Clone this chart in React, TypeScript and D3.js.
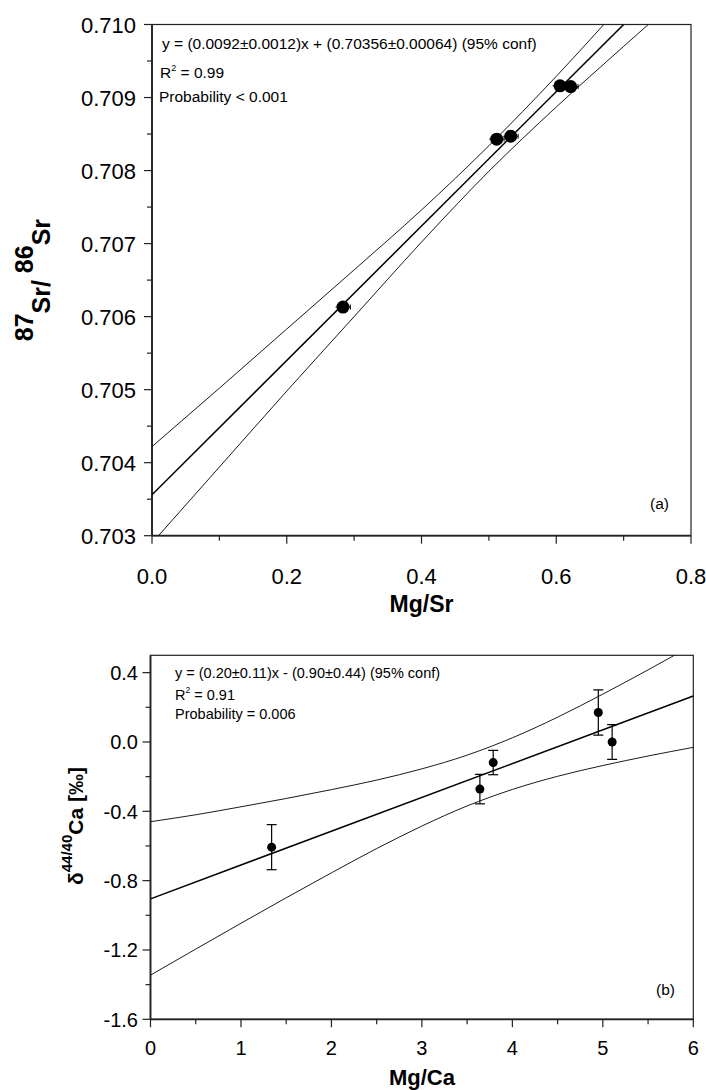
import React from "react";
import * as d3 from "d3";

// ---------- Data: panel (a) ----------
const srMgSr = [0.2835, 0.5116, 0.5324, 0.6056, 0.6214];
const srRatio = [0.70613, 0.70843, 0.70847, 0.70916, 0.70915];
const srXErr = [0.011, 0.011, 0.011, 0.011, 0.011];
const srFitSlope = 0.0092;
const srFitIntercept = 0.70356;
const srBandX = [0, 0.1, 0.2, 0.3, 0.4, 0.5, 0.6, 0.7, 0.8];
const srUpperY = [0.70422, 0.70502, 0.70583, 0.70664, 0.70746, 0.70834, 0.70929, 0.7103, 0.71132];
const srLowerY = [0.7029, 0.70394, 0.70498, 0.706, 0.70702, 0.70799, 0.70887, 0.7097, 0.71052];
const srYTicks = [0.703, 0.704, 0.705, 0.706, 0.707, 0.708, 0.709, 0.71];
const srXTicks = [0, 0.2, 0.4, 0.6, 0.8];

// ---------- Data: panel (b) ----------
const caMgCa = [1.339, 3.641, 3.788, 4.95, 5.103];
const caDelta = [-0.607, -0.272, -0.119, 0.17, 0.0];
const caErr = [0.13, 0.085, 0.07, 0.13, 0.1];
const caFitSlope = 0.195;
const caFitIntercept = -0.905;
const caBandX = [0, 0.5, 1, 1.5, 2, 2.5, 3, 3.5, 4, 4.5, 5, 5.5, 6];
const caUpperY = [-0.46, -0.42, -0.374, -0.326, -0.275, -0.22, -0.155, -0.076, 0.024, 0.143, 0.276, 0.416, 0.561];
const caLowerY = [-1.345, -1.195, -1.046, -0.899, -0.755, -0.615, -0.485, -0.369, -0.274, -0.198, -0.136, -0.081, -0.031];
const caYTicks = [-1.6, -1.2, -0.8, -0.4, 0.0, 0.4];
const caXTicks = [0, 1, 2, 3, 4, 5, 6];

const FONT = "'Liberation Sans', Arial, Helvetica, sans-serif";

function minorTicks(domain: [number, number], step: number): number[] {
  const out: number[] = [];
  const n = Math.round((domain[1] - domain[0]) / step);
  for (let i = 0; i <= n; i++) out.push(domain[0] + i * step);
  return out;
}

export default function App() {
  // Panel (a) scales
  const xa = d3.scaleLinear().domain([0, 0.8]).range([152, 691]);
  const ya = d3.scaleLinear().domain([0.703, 0.71]).range([535.7, 24.5]);
  // Panel (b) scales
  const xb = d3.scaleLinear().domain([0, 6]).range([150.5, 693.3]);
  const yb = d3.scaleLinear().domain([-1.6, 0.5]).range([1019.3, 655.3]);

  const lineA = d3
    .line<[number, number]>()
    .x((d) => xa(d[0]))
    .y((d) => ya(d[1]))
    .curve(d3.curveMonotoneX);
  const lineB = d3
    .line<[number, number]>()
    .x((d) => xb(d[0]))
    .y((d) => yb(d[1]))
    .curve(d3.curveMonotoneX);

  const fitA: [number, number][] = [0, 0.8].map((x) => [x, srFitIntercept + srFitSlope * x]);
  const fitB: [number, number][] = [0, 6].map((x) => [x, caFitIntercept + caFitSlope * x]);
  const upA = srBandX.map((x, i) => [x, srUpperY[i]] as [number, number]);
  const loA = srBandX.map((x, i) => [x, srLowerY[i]] as [number, number]);
  const upB = caBandX.map((x, i) => [x, caUpperY[i]] as [number, number]);
  const loB = caBandX.map((x, i) => [x, caLowerY[i]] as [number, number]);

  const aL = xa.range()[0], aR = xa.range()[1], aT = ya.range()[1], aB = ya.range()[0];
  const bL = xb.range()[0], bR = xb.range()[1], bT = yb.range()[1], bB = yb.range()[0];

  return (
    <svg
      width={706}
      height={1090}
      style={{ position: "absolute", left: 0, top: 0, background: "#fff" }}
      fontFamily={FONT}
    >
      <defs>
        <clipPath id="clipA">
          <rect x={aL} y={aT} width={aR - aL} height={aB - aT} />
        </clipPath>
        <clipPath id="clipB">
          <rect x={bL} y={bT} width={bR - bL} height={bB - bT} />
        </clipPath>
      </defs>
      <rect width={706} height={1090} fill="#fff" />

      {/* ================= Panel (a) ================= */}
      <rect x={aL} y={aT} width={aR - aL} height={aB - aT} fill="none" stroke="#222" strokeWidth={1.2} />
      <line x1={aL} x2={aL} y1={aT} y2={aB} stroke="#222" strokeWidth={1.8} />
      <line x1={aL} x2={aR} y1={aB} y2={aB} stroke="#222" strokeWidth={1.8} />
      {minorTicks([0.703, 0.71], 0.0005).map((v, i) => (
        <line key={"aym" + i} x1={aL} x2={aL - (i % 2 === 0 ? 8 : 5)} y1={ya(v)} y2={ya(v)} stroke="#222" strokeWidth={1.2} />
      ))}
      {minorTicks([0, 0.8], 0.1).map((v, i) => (
        <line key={"axm" + i} y1={aB} y2={aB + (i % 2 === 0 ? 8 : 5)} x1={xa(v)} x2={xa(v)} stroke="#222" strokeWidth={1.2} />
      ))}
      {srYTicks.map((v) => (
        <text key={"ayl" + v} x={136} y={ya(v) + 8} fontSize={22} textAnchor="end" fill="#000">
          {v.toFixed(3)}
        </text>
      ))}
      {srXTicks.map((v) => (
        <text key={"axl" + v} x={xa(v)} y={584} fontSize={22} textAnchor="middle" fill="#000">
          {v.toFixed(1)}
        </text>
      ))}
      <text x={(aL + aR) / 2} y={612} fontSize={23} fontWeight="bold" textAnchor="middle">
        Mg/Sr
      </text>
      <g transform={`translate(50, ${(aT + aB) / 2}) rotate(-90)`}>
        <text x={0} y={0} fontSize={25} fontWeight="bold" textAnchor="middle">
          <tspan dy={-17}>87</tspan>
          <tspan dy={17}>Sr/</tspan>
          <tspan dy={-17}> 86</tspan>
          <tspan dy={17}>Sr</tspan>
        </text>
      </g>

      <g clipPath="url(#clipA)">
        <path d={lineA(upA) || ""} fill="none" stroke="#000" strokeWidth={0.9} />
        <path d={lineA(loA) || ""} fill="none" stroke="#000" strokeWidth={0.9} />
        <path d={lineA(fitA) || ""} fill="none" stroke="#000" strokeWidth={1.5} />
        {srMgSr.map((x, i) => (
          <g key={"ap" + i}>
            <line x1={xa(x - srXErr[i])} x2={xa(x + srXErr[i])} y1={ya(srRatio[i])} y2={ya(srRatio[i])} stroke="#000" strokeWidth={1} />
            <line x1={xa(x + srXErr[i])} x2={xa(x + srXErr[i])} y1={ya(srRatio[i]) - 2.5} y2={ya(srRatio[i]) + 2.5} stroke="#000" strokeWidth={1} />
            <circle cx={xa(x)} cy={ya(srRatio[i])} r={6.5} fill="#000" />
          </g>
        ))}
      </g>

      <text x={162} y={48.5} fontSize={15.5}>
        y = (0.0092±0.0012)x + (0.70356±0.00064) (95% conf)
      </text>
      <text x={160} y={78} fontSize={15.5}>
        R<tspan fontSize={9} dy={-7}>2</tspan>
        <tspan dy={7}> = 0.99</tspan>
      </text>
      <text x={159} y={102} fontSize={15.5}>
        Probability &lt; 0.001
      </text>
      <text x={650} y={509} fontSize={15.5}>
        (a)
      </text>

      {/* ================= Panel (b) ================= */}
      <rect x={bL} y={bT} width={bR - bL} height={bB - bT} fill="none" stroke="#222" strokeWidth={1.2} />
      <line x1={bL} x2={bL} y1={bT} y2={bB} stroke="#222" strokeWidth={1.8} />
      <line x1={bL} x2={bR} y1={bB} y2={bB} stroke="#222" strokeWidth={1.8} />
      {minorTicks([-1.6, 0.4], 0.2).map((v, i) => (
        <line key={"bym" + i} x1={bL} x2={bL - (i % 2 === 0 ? 8 : 5)} y1={yb(v)} y2={yb(v)} stroke="#222" strokeWidth={1.2} />
      ))}
      {minorTicks([0, 6], 0.5).map((v, i) => (
        <line key={"bxm" + i} y1={bB} y2={bB + (i % 2 === 0 ? 8 : 5)} x1={xb(v)} x2={xb(v)} stroke="#222" strokeWidth={1.2} />
      ))}
      {caYTicks.map((v) => (
        <text key={"byl" + v} x={138} y={yb(v) + 7.5} fontSize={20} textAnchor="end">
          {v.toFixed(1).replace("-0.0", "0.0")}
        </text>
      ))}
      {caXTicks.map((v) => (
        <text key={"bxl" + v} x={xb(v)} y={1055} fontSize={20} textAnchor="middle">
          {String(v)}
        </text>
      ))}
      <text x={(bL + bR) / 2} y={1085} fontSize={22} fontWeight="bold" textAnchor="middle">
        Mg/Ca
      </text>
      <g transform={`translate(83, 826) rotate(-90)`}>
        <text x={0} y={0} fontSize={21} fontWeight="bold" textAnchor="middle">
          <tspan>δ</tspan>
          <tspan fontSize={15} dy={-11}>44/40</tspan>
          <tspan dy={11}>Ca [‰]</tspan>
        </text>
      </g>

      <g clipPath="url(#clipB)">
        <path d={lineB(upB) || ""} fill="none" stroke="#000" strokeWidth={0.9} />
        <path d={lineB(loB) || ""} fill="none" stroke="#000" strokeWidth={0.9} />
        <path d={lineB(fitB) || ""} fill="none" stroke="#000" strokeWidth={1.5} />
        {caMgCa.map((x, i) => (
          <g key={"bp" + i}>
            <line x1={xb(x)} x2={xb(x)} y1={yb(caDelta[i] + caErr[i])} y2={yb(caDelta[i] - caErr[i])} stroke="#000" strokeWidth={1.2} />
            <line x1={xb(x) - 5} x2={xb(x) + 5} y1={yb(caDelta[i] + caErr[i])} y2={yb(caDelta[i] + caErr[i])} stroke="#000" strokeWidth={1.2} />
            <line x1={xb(x) - 5} x2={xb(x) + 5} y1={yb(caDelta[i] - caErr[i])} y2={yb(caDelta[i] - caErr[i])} stroke="#000" strokeWidth={1.2} />
            <circle cx={xb(x)} cy={yb(caDelta[i])} r={4.5} fill="#000" />
          </g>
        ))}
      </g>

      <text x={175} y={678} fontSize={14.5}>
        y = (0.20±0.11)x - (0.90±0.44) (95% conf)
      </text>
      <text x={175} y={699.5} fontSize={14.5}>
        R<tspan fontSize={8.5} dy={-6.5}>2</tspan>
        <tspan dy={6.5}> = 0.91</tspan>
      </text>
      <text x={175} y={718.5} fontSize={14.5}>
        Probability = 0.006
      </text>
      <text x={656} y={995} fontSize={15.5}>
        (b)
      </text>
    </svg>
  );
}
